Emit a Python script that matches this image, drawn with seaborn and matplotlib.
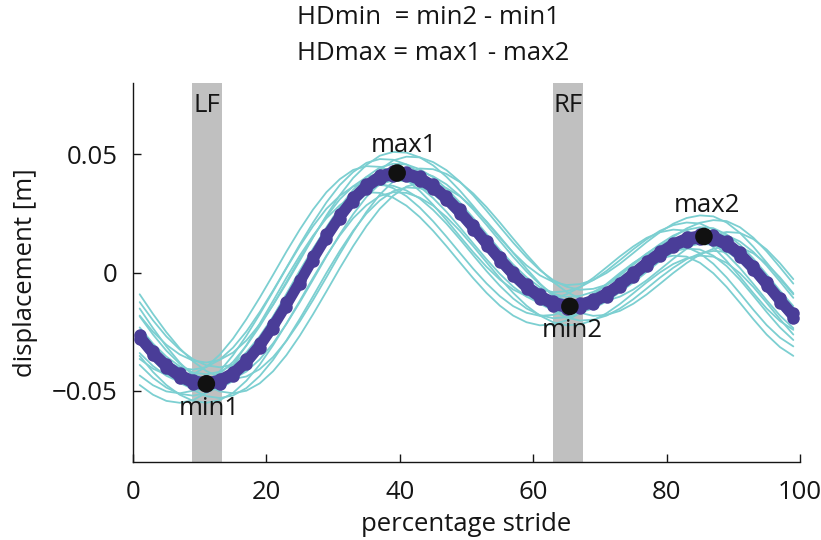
import matplotlib
matplotlib.use("Agg")
import matplotlib.pyplot as plt
import seaborn as sns
import pandas as pd

# ---------------- data ----------------
stride_pct = list(range(1, 100, 2))  # 1, 3, ..., 99

# individual strides (cyan), displacement [m]
stride_01 = [-0.0092,-0.0175,-0.0252,-0.0320,-0.0375,-0.0416,-0.0442,-0.0450,-0.0439,-0.0408,-0.0357,-0.0289,-0.0207,-0.0116,-0.0020,0.0078,0.0171,0.0256,0.0329,0.0384,0.0423,0.0439,0.0436,0.0416,0.0382,0.0334,0.0276,0.0211,0.0143,0.0076,0.0014,-0.0040,-0.0082,-0.0110,-0.0123,-0.0119,-0.0102,-0.0072,-0.0033,0.0012,0.0058,0.0100,0.0136,0.0160,0.0171,0.0167,0.0141,0.0097,0.0039,-0.0028]
stride_02 = [-0.0152,-0.0235,-0.0312,-0.0380,-0.0435,-0.0476,-0.0502,-0.0510,-0.0499,-0.0468,-0.0417,-0.0349,-0.0267,-0.0176,-0.0080,0.0018,0.0111,0.0196,0.0269,0.0324,0.0363,0.0379,0.0376,0.0356,0.0322,0.0274,0.0216,0.0151,0.0083,0.0016,-0.0046,-0.0100,-0.0142,-0.0170,-0.0183,-0.0179,-0.0162,-0.0132,-0.0093,-0.0048,-0.0002,0.0040,0.0076,0.0100,0.0111,0.0107,0.0081,0.0037,-0.0021,-0.0088]
stride_03 = [-0.0125,-0.0202,-0.0270,-0.0325,-0.0366,-0.0392,-0.0400,-0.0389,-0.0358,-0.0307,-0.0239,-0.0157,-0.0066,0.0030,0.0128,0.0221,0.0306,0.0379,0.0434,0.0473,0.0489,0.0486,0.0466,0.0432,0.0384,0.0326,0.0261,0.0193,0.0126,0.0064,0.0010,-0.0032,-0.0060,-0.0073,-0.0069,-0.0052,-0.0022,0.0017,0.0062,0.0108,0.0150,0.0186,0.0210,0.0221,0.0217,0.0191,0.0147,0.0089,0.0022,-0.0047]
stride_04 = [-0.0185,-0.0262,-0.0330,-0.0385,-0.0426,-0.0452,-0.0460,-0.0449,-0.0418,-0.0367,-0.0299,-0.0217,-0.0126,-0.0030,0.0068,0.0161,0.0246,0.0319,0.0374,0.0413,0.0429,0.0426,0.0406,0.0372,0.0324,0.0266,0.0201,0.0133,0.0066,0.0004,-0.0050,-0.0092,-0.0120,-0.0133,-0.0129,-0.0112,-0.0082,-0.0043,0.0002,0.0048,0.0090,0.0126,0.0150,0.0161,0.0157,0.0131,0.0087,0.0029,-0.0038,-0.0107]
stride_05 = [-0.0255,-0.0332,-0.0400,-0.0455,-0.0496,-0.0522,-0.0530,-0.0519,-0.0488,-0.0437,-0.0369,-0.0287,-0.0196,-0.0100,-0.0002,0.0091,0.0176,0.0249,0.0304,0.0343,0.0359,0.0356,0.0336,0.0302,0.0254,0.0196,0.0131,0.0063,-0.0004,-0.0066,-0.0120,-0.0162,-0.0190,-0.0203,-0.0199,-0.0182,-0.0152,-0.0113,-0.0068,-0.0022,0.0020,0.0056,0.0080,0.0091,0.0087,0.0061,0.0017,-0.0041,-0.0108,-0.0177]
stride_06 = [-0.0182,-0.0250,-0.0305,-0.0346,-0.0372,-0.0380,-0.0369,-0.0338,-0.0287,-0.0219,-0.0137,-0.0046,0.0050,0.0148,0.0241,0.0326,0.0399,0.0454,0.0493,0.0509,0.0506,0.0486,0.0452,0.0404,0.0346,0.0281,0.0213,0.0146,0.0084,0.0030,-0.0012,-0.0040,-0.0053,-0.0049,-0.0032,-0.0002,0.0037,0.0082,0.0128,0.0170,0.0206,0.0230,0.0241,0.0237,0.0211,0.0167,0.0109,0.0042,-0.0027,-0.0092]
stride_07 = [-0.0232,-0.0300,-0.0355,-0.0396,-0.0422,-0.0430,-0.0419,-0.0388,-0.0337,-0.0269,-0.0187,-0.0096,0.0000,0.0098,0.0191,0.0276,0.0349,0.0404,0.0443,0.0459,0.0456,0.0436,0.0402,0.0354,0.0296,0.0231,0.0163,0.0096,0.0034,-0.0020,-0.0062,-0.0090,-0.0103,-0.0099,-0.0082,-0.0052,-0.0013,0.0032,0.0078,0.0120,0.0156,0.0180,0.0191,0.0187,0.0161,0.0117,0.0059,-0.0008,-0.0077,-0.0142]
stride_08 = [-0.0302,-0.0370,-0.0425,-0.0466,-0.0492,-0.0500,-0.0489,-0.0458,-0.0407,-0.0339,-0.0257,-0.0166,-0.0070,0.0028,0.0121,0.0206,0.0279,0.0334,0.0373,0.0389,0.0386,0.0366,0.0332,0.0284,0.0226,0.0161,0.0093,0.0026,-0.0036,-0.0090,-0.0132,-0.0160,-0.0173,-0.0169,-0.0152,-0.0122,-0.0083,-0.0038,0.0008,0.0050,0.0086,0.0110,0.0121,0.0117,0.0091,0.0047,-0.0011,-0.0078,-0.0147,-0.0212]
stride_09 = [-0.0352,-0.0420,-0.0475,-0.0516,-0.0542,-0.0550,-0.0539,-0.0508,-0.0457,-0.0389,-0.0307,-0.0216,-0.0120,-0.0022,0.0071,0.0156,0.0229,0.0284,0.0323,0.0339,0.0336,0.0316,0.0282,0.0234,0.0176,0.0111,0.0043,-0.0024,-0.0086,-0.0140,-0.0182,-0.0210,-0.0223,-0.0219,-0.0202,-0.0172,-0.0133,-0.0088,-0.0042,0.0000,0.0036,0.0060,0.0071,0.0067,0.0041,-0.0003,-0.0061,-0.0128,-0.0197,-0.0262]
stride_10 = [-0.0280,-0.0335,-0.0376,-0.0402,-0.0410,-0.0399,-0.0368,-0.0317,-0.0249,-0.0167,-0.0076,0.0020,0.0118,0.0211,0.0296,0.0369,0.0424,0.0463,0.0479,0.0476,0.0456,0.0422,0.0374,0.0316,0.0251,0.0183,0.0116,0.0054,0.0000,-0.0042,-0.0070,-0.0083,-0.0079,-0.0062,-0.0032,0.0007,0.0052,0.0098,0.0140,0.0176,0.0200,0.0211,0.0207,0.0181,0.0137,0.0079,0.0012,-0.0057,-0.0122,-0.0175]
stride_11 = [-0.0340,-0.0395,-0.0436,-0.0462,-0.0470,-0.0459,-0.0428,-0.0377,-0.0309,-0.0227,-0.0136,-0.0040,0.0058,0.0151,0.0236,0.0309,0.0364,0.0403,0.0419,0.0416,0.0396,0.0362,0.0314,0.0256,0.0191,0.0123,0.0056,-0.0006,-0.0060,-0.0102,-0.0130,-0.0143,-0.0139,-0.0122,-0.0092,-0.0053,-0.0008,0.0038,0.0080,0.0116,0.0140,0.0151,0.0147,0.0121,0.0077,0.0019,-0.0048,-0.0117,-0.0182,-0.0235]
stride_12 = [-0.0390,-0.0445,-0.0486,-0.0512,-0.0520,-0.0509,-0.0478,-0.0427,-0.0359,-0.0277,-0.0186,-0.0090,0.0008,0.0101,0.0186,0.0259,0.0314,0.0353,0.0369,0.0366,0.0346,0.0312,0.0264,0.0206,0.0141,0.0073,0.0006,-0.0056,-0.0110,-0.0152,-0.0180,-0.0193,-0.0189,-0.0172,-0.0142,-0.0103,-0.0058,-0.0012,0.0030,0.0066,0.0090,0.0101,0.0097,0.0071,0.0027,-0.0031,-0.0098,-0.0167,-0.0232,-0.0285]
stride_13 = [-0.0365,-0.0406,-0.0432,-0.0440,-0.0429,-0.0398,-0.0347,-0.0279,-0.0197,-0.0106,-0.0010,0.0088,0.0181,0.0266,0.0339,0.0394,0.0433,0.0449,0.0446,0.0426,0.0392,0.0344,0.0286,0.0221,0.0153,0.0086,0.0024,-0.0030,-0.0072,-0.0100,-0.0113,-0.0109,-0.0092,-0.0062,-0.0023,0.0022,0.0068,0.0110,0.0146,0.0170,0.0181,0.0177,0.0151,0.0107,0.0049,-0.0018,-0.0087,-0.0152,-0.0205,-0.0242]
stride_14 = [-0.0435,-0.0476,-0.0502,-0.0510,-0.0499,-0.0468,-0.0417,-0.0349,-0.0267,-0.0176,-0.0080,0.0018,0.0111,0.0196,0.0269,0.0324,0.0363,0.0379,0.0376,0.0356,0.0322,0.0274,0.0216,0.0151,0.0083,0.0016,-0.0046,-0.0100,-0.0142,-0.0170,-0.0183,-0.0179,-0.0162,-0.0132,-0.0093,-0.0048,-0.0002,0.0040,0.0076,0.0100,0.0111,0.0107,0.0081,0.0037,-0.0021,-0.0088,-0.0157,-0.0222,-0.0275,-0.0312]
stride_15 = [-0.0475,-0.0516,-0.0542,-0.0550,-0.0539,-0.0508,-0.0457,-0.0389,-0.0307,-0.0216,-0.0120,-0.0022,0.0071,0.0156,0.0229,0.0284,0.0323,0.0339,0.0336,0.0316,0.0282,0.0234,0.0176,0.0111,0.0043,-0.0024,-0.0086,-0.0140,-0.0182,-0.0210,-0.0223,-0.0219,-0.0202,-0.0172,-0.0133,-0.0088,-0.0042,0.0000,0.0036,0.0060,0.0071,0.0067,0.0041,-0.0003,-0.0061,-0.0128,-0.0197,-0.0262,-0.0315,-0.0352]

# average curves (purple)
mean_a = [-0.0262,-0.0330,-0.0385,-0.0426,-0.0452,-0.0460,-0.0449,-0.0418,-0.0367,-0.0299,-0.0217,-0.0126,-0.0030,0.0068,0.0161,0.0246,0.0319,0.0374,0.0413,0.0429,0.0426,0.0406,0.0372,0.0324,0.0266,0.0201,0.0133,0.0066,0.0004,-0.0050,-0.0092,-0.0120,-0.0133,-0.0129,-0.0112,-0.0082,-0.0043,0.0002,0.0048,0.0090,0.0126,0.0150,0.0161,0.0157,0.0131,0.0087,0.0029,-0.0038,-0.0107,-0.0172]
mean_b = [-0.0282,-0.0350,-0.0405,-0.0446,-0.0472,-0.0480,-0.0469,-0.0438,-0.0387,-0.0319,-0.0237,-0.0146,-0.0050,0.0048,0.0141,0.0226,0.0299,0.0354,0.0393,0.0409,0.0406,0.0386,0.0352,0.0304,0.0246,0.0181,0.0113,0.0046,-0.0016,-0.0070,-0.0112,-0.0140,-0.0153,-0.0149,-0.0132,-0.0102,-0.0063,-0.0018,0.0028,0.0070,0.0106,0.0130,0.0141,0.0137,0.0111,0.0067,0.0009,-0.0058,-0.0127,-0.0192]

# extreme points
extreme_names = ["min1", "max1", "min2", "max2"]
extreme_x = [11.0, 39.6, 65.5, 85.6]
extreme_y = [-0.0470, 0.0420, -0.0143, 0.0152]

# foot contact bands
band_names = ["LF", "RF"]
band_start = [8.9, 63.0]
band_end = [13.3, 67.5]

x_ticks = [0, 20, 40, 60, 80, 100]
y_ticks = [-0.05, 0.0, 0.05]
y_tick_labels = ["\u22120.05", "0", "0.05"]

# ---------------- plotting ----------------
sns.set_style("ticks")
plt.rcParams["font.family"] = ["Open Sans", "DejaVu Sans"]

CYAN = "#7ccfd1"
PURPLE = "#4a3d98"
GREY = "#c0c0c0"
INK = "#151515"

strides = [stride_01, stride_02, stride_03, stride_04, stride_05, stride_06, stride_07,
           stride_08, stride_09, stride_10, stride_11, stride_12, stride_13, stride_14, stride_15]
rows = []
for k, s in enumerate(strides):
    for xv, yv in zip(stride_pct, s):
        rows.append({"stride": k, "pct": xv, "disp": yv})
df = pd.DataFrame(rows)

fig = plt.figure(figsize=(8.21, 5.40), dpi=100)
ax = fig.add_axes([133 / 821, 1 - 462 / 540, (800 - 133) / 821, (462 - 83) / 540])

for b0, b1 in zip(band_start, band_end):
    ax.axvspan(b0, b1, color=GREY, lw=0, zorder=0)

sns.lineplot(data=df, x="pct", y="disp", units="stride", estimator=None,
             color=CYAN, lw=1.3, ax=ax, zorder=2, legend=False)

for m in (mean_a, mean_b):
    sns.lineplot(x=stride_pct, y=m, color=PURPLE, lw=6, marker="o", markersize=9,
                 markeredgewidth=0, ax=ax, zorder=3, legend=False)

sns.scatterplot(x=extreme_x, y=extreme_y, color="#111111", s=160, edgecolor="none",
                ax=ax, zorder=5, legend=False)

FS = 18.5
ax.text(40.6, 0.0536, "max1", ha="center", va="center", fontsize=FS, color=INK, zorder=6)
ax.text(11.5, -0.0574, "min1", ha="center", va="center", fontsize=FS, color=INK, zorder=6)
ax.text(65.8, -0.0246, "min2", ha="center", va="center", fontsize=FS, color=INK, zorder=6)
ax.text(86.0, 0.0283, "max2", ha="center", va="center", fontsize=FS, color=INK, zorder=6)
for name, b0, b1 in zip(band_names, band_start, band_end):
    ax.text((b0 + b1) / 2, 0.0703, name, ha="center", va="center", fontsize=FS, color=INK, zorder=6)

ax.set_xlim(0, 100)
ax.set_ylim(-0.08, 0.08)
ax.set_xticks(x_ticks)
ax.set_yticks(y_ticks)
ax.set_yticklabels(y_tick_labels)
ax.tick_params(direction="in", length=6, width=1, labelsize=FS, colors=INK)
ax.tick_params(axis="y", pad=11)
ax.tick_params(axis="x", pad=13)
sns.despine(ax=ax)
for sp in ("left", "bottom"):
    ax.spines[sp].set_linewidth(1.0)
    ax.spines[sp].set_color(INK)
ax.set_xlabel("percentage stride", fontsize=FS, color=INK, labelpad=5)
ax.set_ylabel("displacement [m]", fontsize=FS, color=INK, labelpad=10)

fig.text(297 / 821, 1 - 18 / 540, "HDmin  = min2 - min1", ha="left", va="center", fontsize=FS, color=INK)
fig.text(297 / 821, 1 - 54 / 540, "HDmax = max1 - max2", ha="left", va="center", fontsize=FS, color=INK)

fig.savefig("out.png", dpi=100, facecolor="white")
